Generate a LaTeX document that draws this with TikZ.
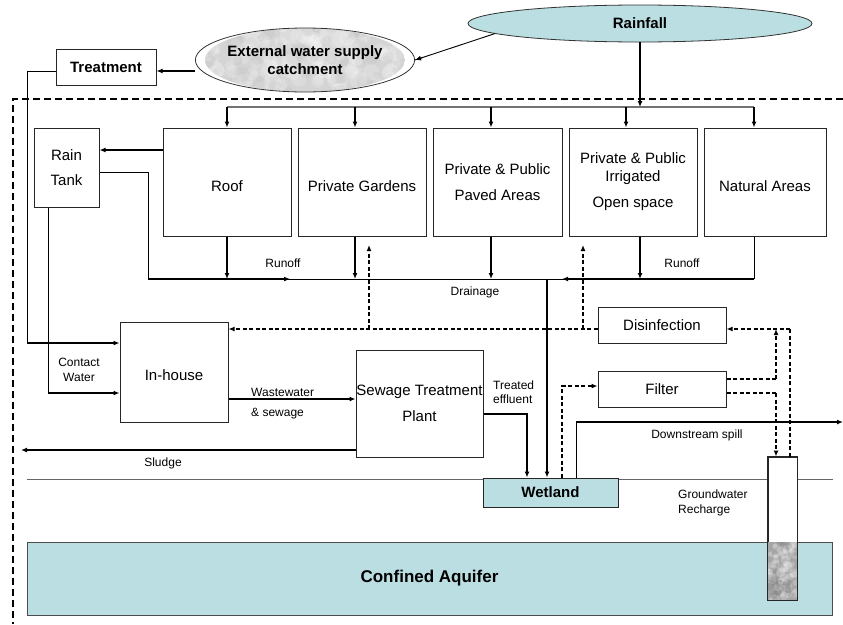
\documentclass[tikz,border=0pt]{standalone}
\usepackage{fontspec}
\setmainfont{Liberation Sans}
\usetikzlibrary{arrows.meta,calc,shapes.geometric}
\definecolor{water}{RGB}{186,222,226}
\definecolor{rock}{RGB}{212,212,212}
\definecolor{rockdark}{RGB}{165,165,165}

\begin{document}
\begin{tikzpicture}[x=1pt,y=-1pt,
  box/.style={draw=black!85, line width=1pt, fill=white, align=center, inner sep=0pt,
    font=\fontsize{15}{25}\selectfont},
  lowtext/.style={text height=19pt},
  boldtxt/.style={font=\bfseries\fontsize{15}{18}\selectfont},
  lbl/.style={font=\fontsize{12}{14.5}\selectfont, inner sep=0pt},
  tip/.style={-{Latex[length=6pt,width=5pt]}},
  flow/.style={line width=1.6pt, tip},
  thinline/.style={line width=0.9pt},
  dflow/.style={line width=1.4pt, dash pattern=on 4pt off 2.5pt, tip},
  dline/.style={line width=1.4pt, dash pattern=on 4pt off 2.5pt},
  bound/.style={line width=2.2pt, dash pattern=on 7pt off 4pt}]
\useasboundingbox (0,0) rectangle (843,624);

% catchment boundary
\draw[bound] (843,99) -- (13,99) -- (13,624);

% ground surface
\coordinate (g0) at (27,479);
\coordinate (g1) at (833,479);
\draw[black!60, line width=0.9pt] (g0) -- (g1);

% rainfall and external supply
\node[ellipse, draw=black!80, line width=0.8pt, fill=water, minimum width=344pt,
  minimum height=37pt, inner sep=0pt, boldtxt] (rain) at (640,23.5) {Rainfall};

\begin{scope}
  \clip (305,60) ellipse [x radius=100pt, y radius=32pt];
  \fill[rock] (205,28) rectangle (405,92);
  \pgfmathsetseed{11}
  \foreach \k in {1,...,140}{
    \pgfmathsetmacro\px{205+200*rnd}
    \pgfmathsetmacro\py{28+64*rnd}
    \pgfmathsetmacro\pr{3+6*rnd}
    \fill[white, opacity=0.18] (\px,\py) circle (\pr pt);
  }
  \foreach \k in {1,...,50}{
    \pgfmathsetmacro\px{205+200*rnd}
    \pgfmathsetmacro\py{28+64*rnd}
    \pgfmathsetmacro\pr{3+5*rnd}
    \fill[rockdark, opacity=0.12] (\px,\py) circle (\pr pt);
  }
\end{scope}
\node[ellipse, draw=black!80, line width=0.8pt, minimum width=200pt, minimum height=64pt,
  inner sep=0pt, align=center, boldtxt] (ext) at (305,60) {External water supply\\catchment};

\node[box, boldtxt, minimum width=100pt, minimum height=36pt] (treat) at (106,67) {Treatment};

% land surfaces
\node[box, minimum width=65pt, minimum height=79pt] (tank) at (66.5,167.5) {Rain\\Tank};
\node[box, lowtext, minimum width=128pt, minimum height=108pt] (roof) at (227,182) {Roof};
\node[box, lowtext, minimum width=128pt, minimum height=108pt] (gardens) at (362,182) {Private Gardens};
\node[box, minimum width=129pt, minimum height=108pt] (paved) at (497.5,182) {Private \& Public\\[1pt]Paved Areas};
\node[box, minimum width=128pt, minimum height=108pt] (irrig) at (633,182) {Private \& Public\\[-7pt]Irrigated\\[1pt]Open space};
\node[box, lowtext, minimum width=122pt, minimum height=108pt] (natural) at (765,182) {Natural Areas};

% water use and treatment
\node[box, text height=17pt, minimum width=108pt, minimum height=100pt] (inhouse) at (174,372) {In-house};
\node[box, minimum width=127pt, minimum height=107pt] (stp) at (419.5,403.5) {Sewage Treatment\\[1pt]Plant};
\node[box, minimum width=128pt, minimum height=36pt] (disinf) at (662,325) {Disinfection};
\node[box, minimum width=128pt, minimum height=36pt] (filter) at (662,389) {Filter};
\node[box, boldtxt, fill=water, minimum width=135pt, minimum height=29pt] (wetland) at (550.5,492.5) {Wetland};

% aquifer and recharge bore
\node[draw=black!70, line width=0.9pt, fill=water, minimum width=805pt, minimum height=73pt,
  font=\bfseries\fontsize{17}{20}\selectfont] (aquifer) at (429.5,578.5) {Confined Aquifer};
\node[draw=black!85, line width=1pt, fill=white, minimum width=29pt, minimum height=143pt,
  inner sep=0pt] (bore) at (782.5,528.5) {};
\begin{scope}
  \clip (768,542) rectangle (797,600);
  \fill[rockdark] (768,542) rectangle (797,600);
  \pgfmathsetseed{5}
  \foreach \k in {1,...,60}{
    \pgfmathsetmacro\px{768+29*rnd}
    \pgfmathsetmacro\py{542+58*rnd}
    \pgfmathsetmacro\pr{2+3*rnd}
    \fill[white, opacity=0.2] (\px,\py) circle (\pr pt);
  }
  \foreach \k in {1,...,25}{
    \pgfmathsetmacro\px{768+29*rnd}
    \pgfmathsetmacro\py{542+58*rnd}
    \pgfmathsetmacro\pr{2+3*rnd}
    \fill[black, opacity=0.08] (\px,\py) circle (\pr pt);
  }
\end{scope}
\draw[black!85, line width=1pt] (bore.south west) rectangle (bore.north east);

% rainfall distribution
\coordinate (dist0) at (227,107);
\coordinate (dist1) at (754,107);
\draw[black!55, line width=1.6pt] (dist0) -- (dist1);
\draw[flow] (rain.south) -- (rain.south |- dist0);
\draw[thinline] (rain.184) -- (ext.east);
\draw[tip, line width=0.9pt] ($(rain.184)!0.9!(ext.east)$) -- (ext.east);
\coordinate (tgx) at ($(gardens.north)+(-7,0)$);
\coordinate (tpx) at ($(paved.north)+(-6.5,0)$);
\coordinate (tix) at ($(irrig.north)+(-7,0)$);
\coordinate (tnx) at ($(natural.north)+(-11,0)$);
\draw[flow] (roof.north |- dist0) -- (roof.north);
\draw[flow] (tgx |- dist0) -- (tgx);
\draw[flow] (tpx |- dist0) -- (tpx);
\draw[flow] (tix |- dist0) -- (tix);
\draw[flow] (tnx |- dist0) -- (tnx);

% external supply
\draw[flow] ($(ext.west)+(0,11)$) -- ($(treat.east)+(0,4)$);
\coordinate (ts) at (27,343);
\draw[thinline] ($(treat.west)+(0,4)$) -| (ts);
\draw[flow] (ts) -- (ts -| inhouse.west);

% roof harvesting and runoff
\draw[flow] ($(roof.west)+(0,-32)$) -- ($(tank.east)+(0,-17.5)$);
\coordinate (dl) at (148,279);
\coordinate (dr) at (754,279);
\coordinate (ro1) at (290,279);
\coordinate (ro2) at (562,279);
\draw[thinline] (dl) -- (dr);
\draw[thinline] ($(tank.east)+(0,4.5)$) -| (dl);
\draw[flow] (dl) -- (ro1);
\draw[thinline] (natural.south -| tnx) -- (dr);
\draw[flow] (dr) -- (ro2);
\coordinate (bgx) at ($(gardens.south)+(-7,0)$);
\coordinate (bpx) at ($(paved.south)+(-6.5,0)$);
\coordinate (bix) at ($(irrig.south)+(7,0)$);
\draw[flow] (roof.south) -- (roof.south |- dl);
\draw[flow] (bgx) -- (bgx |- dl);
\draw[flow] (bpx) -- (bpx |- dl);
\draw[flow] (bix) -- (bix |- dl);
\coordinate (drn) at (547,279);
\draw[flow] (drn) -- (drn |- wetland.north);

% rain tank supply
\coordinate (tb) at ($(tank.south)+(-18.5,0)$);
\coordinate (tc) at (48,393);
\draw[thinline] (tb) -- (tc);
\draw[flow] (tc) -- (tc -| inhouse.west);

% wastewater
\coordinate (ww) at ($(inhouse.east)+(0,27)$);
\draw[flow] (ww) -- (ww -| stp.west);
\coordinate (sl) at (21,450);
\draw[flow] (sl -| stp.west) -- (sl);
\coordinate (te) at ($(stp.east)+(0,10.5)$);
\coordinate (tw) at ($(wetland.north)+(-23.5,0)$);
\draw[flow] (te) -| (tw);

% downstream spill
\coordinate (sp0) at ($(wetland.north)+(25.5,0)$);
\coordinate (spill) at (843,422);
\draw[thinline] (sp0) -- (sp0 |- spill);
\draw[flow] (sp0 |- spill) -- (spill);

% treatment train and reuse (dashed)
\coordinate (wf) at ($(wetland.north)+(11.5,0)$);
\coordinate (fw) at ($(filter.west)+(0,-3)$);
\draw[dflow] (wf) |- (fw);
\coordinate (dw) at ($(disinf.west)+(0,4)$);
\coordinate (de) at ($(disinf.east)+(0,4)$);
\coordinate (ug) at (369,245);
\coordinate (ui) at (583,245);
\draw[dflow] (dw) -- (dw -| inhouse.east);
\draw[dflow] (ug |- dw) -- (ug);
\draw[dflow] (ui |- dw) -- (ui);
\coordinate (fu) at (776,379);
\coordinate (fd) at (776,393);
\draw[dline] ($(filter.east)+(0,-10)$) -- (fu);
\draw[dflow] (fu) -- (fu |- de);
\draw[dline] ($(filter.east)+(0,4)$) -- (fd);
\draw[dflow] (fd) -- (fd |- bore.north);
\coordinate (br) at ($(bore.north)+(7.5,0)$);
\draw[dline] (br) -- (br |- de);
\draw[dflow] (br |- de) -- (de);

% flow labels
\node[lbl] (lr1) at (283,263) {Runoff};
\node[lbl] (lr2) at (682,263) {Runoff};
\node[lbl] (ldr) at (475,292) {Drainage};
\node[lbl, align=center] (lcw) at (79,370) {Contact\\Water};
\node[lbl, anchor=west] (lww) at (251,392) {Wastewater};
\node[lbl, anchor=west] (lsw) at (251,414) {\& sewage};
\node[lbl] (lsl) at (163,463) {Sludge};
\node[lbl, anchor=west, align=left] (lte) at (493,392) {Treated\\effluent};
\node[lbl] (lds) at (697,435) {Downstream spill};
\node[lbl, anchor=west, align=left, font=\fontsize{12}{15}\selectfont] (lgr) at (678,502.5) {Groundwater\\Recharge};
\end{tikzpicture}
\end{document}
